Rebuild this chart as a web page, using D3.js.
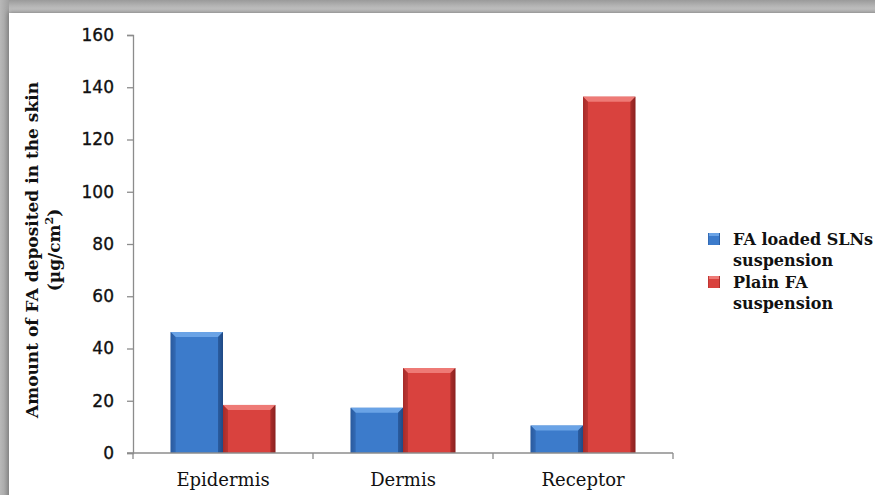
<!DOCTYPE html>
<html><head><meta charset="utf-8">
<script src="https://cdn.jsdelivr.net/npm/d3@7"></script>
<style>html,body{margin:0;padding:0;background:#fff;}svg{display:block;}</style>
</head><body>
<script>
const categories = ["Epidermis", "Dermis", "Receptor"];
const seriesNames = ["FA loaded SLNs suspension", "Plain FA suspension"];
const legendLines = [["FA loaded SLNs", "suspension"], ["Plain FA", "suspension"]];
const slnValues = [46.3, 17.3, 10.5];
const plainValues = [18.4, 32.5, 136.4];
const yTicks = [0, 20, 40, 60, 80, 100, 120, 140, 160];

const W = 875, H = 495;
const svg = d3.select("body").append("svg").attr("width", W).attr("height", H);
const defs = svg.append("defs");

// frame background
const bg = defs.append("linearGradient").attr("id","topg").attr("x1",0).attr("y1",0).attr("x2",0).attr("y2",1);
bg.append("stop").attr("offset","0%").attr("stop-color","#9a9a9a");
bg.append("stop").attr("offset","100%").attr("stop-color","#d8d8d8");
svg.append("rect").attr("width",W).attr("height",H).attr("fill","#fff");
svg.append("rect").attr("width",W).attr("height",14).attr("fill","url(#topg)");
const lg = defs.append("linearGradient").attr("id","leftg").attr("x1",0).attr("y1",0).attr("x2",1).attr("y2",0);
lg.append("stop").attr("offset","0%").attr("stop-color","#b8b8b8");
lg.append("stop").attr("offset","100%").attr("stop-color","#a0a0a0");
svg.append("rect").attr("x",0).attr("y",0).attr("width",9).attr("height",H).attr("fill","url(#leftg)");
const sh = defs.append("filter").attr("id","shadow").attr("x","-5%").attr("y","-5%").attr("width","110%").attr("height","110%");
sh.append("feGaussianBlur").attr("stdDeviation",2.5);
svg.append("rect").attr("x",8).attr("y",12).attr("width",W).attr("height",H).attr("fill","#777").attr("filter","url(#shadow)");
svg.append("rect").attr("x",9).attr("y",13).attr("width",W).attr("height",H).attr("fill","#fff");

const m = {left:133, right:673, top:35, bottom:453};
const y = d3.scaleLinear().domain([0,160]).range([m.bottom, m.top]);
const x0 = d3.scaleBand().domain(categories).range([m.left, m.right]).paddingInner(0.418).paddingOuter(0.209);
const x1 = d3.scaleBand().domain(seriesNames).range([0, x0.bandwidth()]);

// gradients for bars
const palettes = [
  {id:"gb", edge:"#2a5a9e", mid:"#3c7bcb", light:"#6aa3e6", dark:"#1f4a85"},
  {id:"gr", edge:"#a52c29", mid:"#d9423e", light:"#ee7a76", dark:"#8c2220"}
];
palettes.forEach(p => {
  const g = defs.append("linearGradient").attr("id",p.id).attr("x1",0).attr("y1",0).attr("x2",1).attr("y2",0);
  g.append("stop").attr("offset","0%").attr("stop-color",p.edge);
  g.append("stop").attr("offset","8%").attr("stop-color",p.mid);
  g.append("stop").attr("offset","90%").attr("stop-color",p.mid);
  g.append("stop").attr("offset","100%").attr("stop-color",p.dark);
});

// y axis
const yAxis = d3.axisLeft(y).tickValues(yTicks).tickSize(6).tickPadding(13);
const ya = svg.append("g").attr("transform",`translate(${m.left},0)`).call(yAxis);
ya.select(".domain").attr("stroke","#8c8c8c").attr("stroke-width",1.3);
ya.selectAll(".tick line").attr("stroke","#8c8c8c").attr("stroke-width",1.3);
ya.selectAll(".tick text").attr("font-family","DejaVu Sans").attr("font-size",17).attr("fill","#111").attr("stroke","#111").attr("stroke-width",0.35);

// bars
const data = categories.map((c,i)=>({cat:c, vals:[slnValues[i], plainValues[i]]}));
const groups = svg.append("g").selectAll("g").data(data).join("g").attr("transform",d=>`translate(${x0(d.cat)},0)`);
groups.each(function(d){
  const g = d3.select(this);
  d.vals.forEach((v,si)=>{
    const p = palettes[si];
    const bx = x1(seriesNames[si]), bw = x1.bandwidth(), by = y(v), bh = y(0)-y(v);
    g.append("rect").attr("x",bx).attr("y",by).attr("width",bw).attr("height",bh).attr("fill",`url(#${p.id})`);
    const bev = Math.min(5, bh/2);
    g.append("path").attr("d",`M${bx},${by}L${bx+bw},${by}L${bx+bw-bev},${by+bev}L${bx+bev},${by+bev}Z`).attr("fill",p.light);
    g.append("path").attr("d",`M${bx},${by}L${bx+bev},${by+bev}L${bx+bev},${by+bh}L${bx},${by+bh}Z`).attr("fill",p.edge).attr("opacity",0.6);
    g.append("path").attr("d",`M${bx+bw},${by}L${bx+bw-bev},${by+bev}L${bx+bw-bev},${by+bh}L${bx+bw},${by+bh}Z`).attr("fill",p.dark).attr("opacity",0.6);
  });
});

// x axis
const xAxis = d3.axisBottom(x0).tickSize(0).tickPadding(18);
const xa = svg.append("g").attr("transform",`translate(0,${m.bottom})`).call(xAxis);
xa.select(".domain").remove();
svg.append("line").attr("x1",m.left-6).attr("x2",m.right).attr("y1",m.bottom).attr("y2",m.bottom).attr("stroke","#8c8c8c").attr("stroke-width",1.3);
const step = x0.step();
d3.range(0, categories.length+1).forEach(i=>{
  const xx = m.left + i*step;
  svg.append("line").attr("x1",xx).attr("x2",xx).attr("y1",m.bottom).attr("y2",m.bottom+6).attr("stroke","#8c8c8c").attr("stroke-width",1.3);
});
xa.selectAll(".tick text").attr("font-family","DejaVu Serif").attr("font-size",18).attr("fill","#111").attr("dy","0.85em");

// y title
const yt = svg.append("text").attr("transform","translate(38,250) rotate(-90)").attr("text-anchor","middle")
  .attr("font-family","DejaVu Serif").attr("font-weight","bold").attr("font-size",17).attr("fill","#111");
yt.append("tspan").attr("x",0).attr("y",0).text("Amount of FA  deposited in the skin");
const t2 = yt.append("tspan").attr("x",0).attr("y",22);
t2.append("tspan").text("(µg/cm");
t2.append("tspan").attr("font-size",11).attr("dy",-7).text("2");
t2.append("tspan").attr("dy",7).text(")");

// legend
const leg = svg.append("g");
legendLines.forEach((lines,i)=>{
  const yy = 233 + i*43;
  const p = palettes[i];
  leg.append("rect").attr("x",708).attr("y",yy).attr("width",12).attr("height",12).attr("fill",`url(#${p.id})`);
  leg.append("rect").attr("x",709).attr("y",yy).attr("width",10).attr("height",3).attr("fill",p.light);
  lines.forEach((ln,j)=>{
    leg.append("text").attr("x",733).attr("y",yy+12+j*21).attr("font-family","DejaVu Serif").attr("font-weight","bold")
      .attr("font-size",16).attr("fill","#111").text(ln);
  });
});
</script>
</body></html>
